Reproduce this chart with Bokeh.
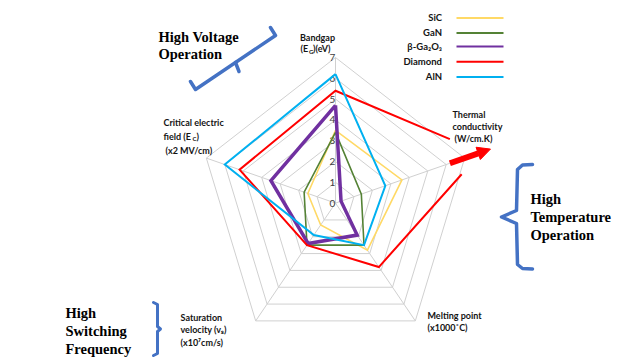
import math
import numpy as np
from bokeh.plotting import figure
from bokeh.models import Range1d, Label, Arrow, NormalHead
from bokeh.core.properties import value
from bokeh.embed import file_html
from bokeh.resources import INLINE

# ---------------- data ----------------
AXES = ["Bandgap", "Thermal conductivity", "Melting point",
        "Saturation velocity", "Critical electric field"]
TICKS = [0, 1, 2, 3, 4, 5, 6, 7]
R_MAX = 7

SERIES_NAMES = ["SiC", "GaN", "β-Ga₂O₃", "Diamond", "AlN"]
SIC = [3.5, 3.6, 2.8, 1.3, 1.5]
GAN = [3.4, 1.4, 2.5, 2.5, 1.7]
GA2O3 = [4.7, 0.3, 1.9, 2.4, 3.5]
DIAMOND = [5.4, 7.9, 3.8, 2.5, 5.2]
ALN = [6.2, 2.7, 2.5, 1.9, 6.0]
SERIES_VALUES = [SIC, GAN, GA2O3, DIAMOND, ALN]

COLORS = ["#FFD966", "#548235", "#7030A0", "#FF0000", "#00B0F0"]
WIDTHS = [1.6, 1.6, 3.5, 2.0, 2.0]

# ---------------- layout ----------------
W, H = 637, 360
MARGIN = 0
CX, CY = 335.0, 202.6      # page px of the radar centre
UX, UY = 19.4, 20.8        # px per value unit (chart is slightly stretched)
CLIP_R = 6.65              # off-scale series are cut here
BLUE = "#4472C4"
TXT = "#141414"


def to_data(xp, yp):
    return (xp - CX) / UX, (CY - yp) / UY


p = figure(width=W, height=H, output_backend="svg", toolbar_location=None,
           x_range=Range1d((MARGIN - CX) / UX, (MARGIN + W - CX) / UX),
           y_range=Range1d((CY - MARGIN - H) / UY, (CY - MARGIN) / UY),
           x_axis_type=None, y_axis_type=None, min_border=0)
p.outline_line_color = None
p.grid.visible = False
p.background_fill_color = "white"
p.border_fill_color = "white"

n = len(AXES)
ang = np.arange(n) * 2 * np.pi / n
SIN, COS = np.sin(ang), np.cos(ang)

# grid pentagons
gx, gy = [], []
for lv in TICKS[1:]:
    gx.append(list(lv * np.append(SIN, SIN[0])))
    gy.append(list(lv * np.append(COS, COS[0])))
p.multi_line(gx, gy, line_color="#D0D0D0", line_width=1)
# spokes
p.segment(x0=[0] * n, y0=[0] * n, x1=list(R_MAX * SIN), y1=list(R_MAX * COS),
          line_color="#D0D0D0", line_width=1)

# tick labels
p.text(x=[0] * len(TICKS), y=TICKS, text=[str(t) for t in TICKS], x_offset=-3,
       text_align="center", text_baseline="middle", text_font=value("Lato"),
       text_font_size="10px", text_color="#404040")


def circle_t(P, Q, R, exiting):
    dx, dy = Q[0] - P[0], Q[1] - P[1]
    a = dx * dx + dy * dy
    b = 2 * (P[0] * dx + P[1] * dy)
    c = P[0] ** 2 + P[1] ** 2 - R * R
    disc = math.sqrt(max(b * b - 4 * a * c, 0))
    t = (-b + disc) / (2 * a) if exiting else (-b - disc) / (2 * a)
    return (P[0] + t * dx, P[1] + t * dy)


def clip_closed(xs, ys, R):
    pts = list(zip(xs, ys))
    segs, cur = [], []
    for i in range(len(pts) - 1):
        P, Q = pts[i], pts[i + 1]
        inP = math.hypot(*P) <= R
        inQ = math.hypot(*Q) <= R
        if inP and inQ:
            if not cur:
                cur.append(P)
            cur.append(Q)
        elif inP and not inQ:
            if not cur:
                cur.append(P)
            cur.append(circle_t(P, Q, R, True))
            segs.append(cur)
            cur = []
        elif inQ and not inP:
            cur = [circle_t(P, Q, R, False), Q]
    if cur:
        segs.append(cur)
    if len(segs) > 1 and segs[-1][-1] == segs[0][0]:
        segs[0] = segs[-1] + segs[0][1:]
        segs.pop()
    return [[q[0] for q in s] for s in segs], [[q[1] for q in s] for s in segs]


for vals, col, lw in zip(SERIES_VALUES, COLORS, WIDTHS):
    v = np.array(vals, dtype=float)
    xs = list(np.append(v * SIN, v[0] * SIN[0]))
    ys = list(np.append(v * COS, v[0] * COS[0]))
    if max(vals) > R_MAX:
        mx, my = clip_closed(xs, ys, CLIP_R)
        p.multi_line(mx, my, line_color=col, line_width=lw, line_join="miter")
    else:
        p.line(xs, ys, line_color=col, line_width=lw, line_join="miter")

# off-scale arrow along thermal conductivity axis
A_FROM, A_TO = 6.2, 8.4
p.add_layout(Arrow(end=NormalHead(size=13, fill_color="#FF0000", line_color="#FF0000"),
                   x_start=A_FROM * SIN[1], y_start=A_FROM * COS[1],
                   x_end=A_TO * SIN[1], y_end=A_TO * COS[1],
                   line_color="#FF0000", line_width=6))


def label(xp, yp, text, size="9px", font="Lato", style="bold", align="left",
          color=TXT):
    x, y = to_data(xp, yp)
    p.add_layout(Label(x=x, y=y, text=text, text_font=font, text_font_size=size,
                       text_font_style=style, text_align=align,
                       text_baseline="middle", text_color=color))


# axis labels
label(317, 37, "Bandgap", align="center")
label(300, 48, "(E")
label(308.5, 50.5, "G", size="6px")
label(312.5, 48, ")(eV)")

label(452, 114, "Thermal")
label(452, 126, "conductivity")
label(454, 138, "(W/cm.K)")

label(427, 315, "Melting point")
label(427, 327, "(x1000˚C)")

label(180, 316.5, "Saturation")
label(180, 329, "velocity (vₛ)")
label(180, 341.5, "(x10⁷cm/s)")

label(163, 121.5, "Critical electric")
label(163, 135.5, "field (E")
label(192, 138, "C", size="6px")
label(196, 135.5, ")")
label(165, 149.5, "(x2 MV/cm)")

# legend
LEG_Y = [17, 32, 45.5, 60.7, 76]
for name, col, ly in zip(SERIES_NAMES, COLORS, LEG_Y):
    label(441.5, ly, name, size="9.5px", align="right")
    x0, y0 = to_data(456, ly + 0.5)
    x1, _ = to_data(503, ly + 0.5)
    p.line([x0, x1], [y0, y0], line_color=col, line_width=2)

# side annotations
SERIF = "Liberation Serif"
label(158, 36, "High Voltage", size="14.5px", font=SERIF, color="#000000")
label(158, 53.5, "Operation", size="14.5px", font=SERIF, color="#000000")
label(530, 198, "High", size="14.5px", font=SERIF, color="#000000")
label(530, 216.5, "Temperature", size="14.5px", font=SERIF, color="#000000")
label(530, 234, "Operation", size="14.5px", font=SERIF, color="#000000")
label(65, 312, "High", size="14.5px", font=SERIF, color="#000000")
label(65, 330, "Switching", size="14.5px", font=SERIF, color="#000000")
label(65, 348, "Frequency", size="14.5px", font=SERIF, color="#000000")


def brace(points, lw=3.5):
    d = [to_data(a, b) for a, b in points]
    p.line([q[0] for q in d], [q[1] for q in d], line_color=BLUE, line_width=lw,
           line_join="round", line_cap="round")


brace([(270, 27), (275, 35), (195, 89), (190, 81)])
brace([(235, 62), (238.5, 71)])
brace([(532, 164), (522, 164.5), (517, 169), (516, 210), (501, 216.5),
       (516, 223), (517, 264), (522, 268), (532, 268.5)])
brace([(153, 302), (157, 304), (157, 326), (160, 328.5), (157, 331),
       (157, 353), (153, 355)], lw=3)

open("out.html", "w").write(file_html(p, INLINE))
